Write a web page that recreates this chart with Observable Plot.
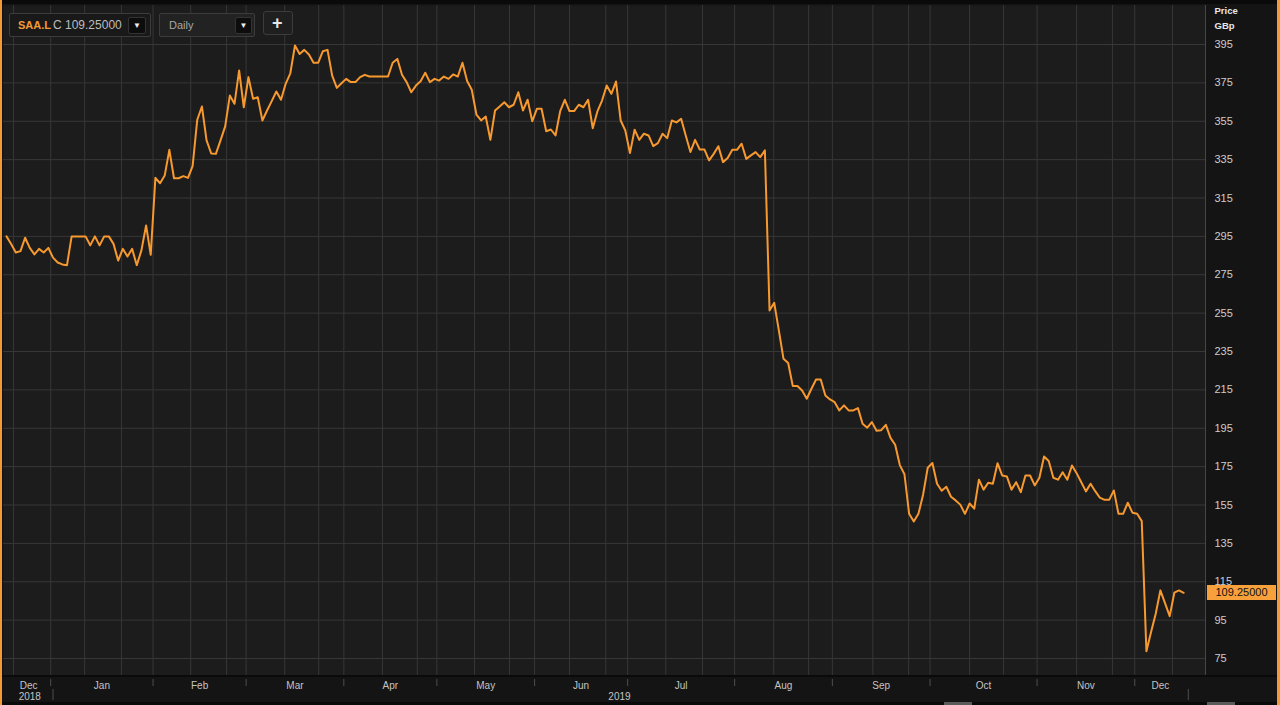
<!DOCTYPE html>
<html>
<head>
<meta charset="utf-8">
<script src="https://cdn.jsdelivr.net/npm/d3@7"></script>
<script src="https://cdn.jsdelivr.net/npm/@observablehq/plot@0.6"></script>
<style>
  html, body { margin: 0; padding: 0; background: #141414; }
  #wrap { position: relative; width: 1280px; height: 705px; overflow: hidden; background: #141414;
          font-family: "Liberation Sans", Arial, sans-serif; }
  #chart { position: absolute; left: 0; top: 0; }
  .abs { position: absolute; }
  .ctl { position: absolute; box-sizing: border-box; border: 1px solid #3c3c3c; border-radius: 2px; }
  .dd { position: absolute; box-sizing: border-box; background: #0d0d0d; border: 1px solid #333; border-radius: 2px;
        color: #eee; font-size: 8px; text-align: center; line-height: 15px; }
</style>
</head>
<body>
<div id="wrap">
  <div id="chart"></div>
  <!-- frame decorations -->
  <div class="abs" style="left:0;top:0;width:1280px;height:4px;background:#0a0a0a;"></div>
  <div class="abs" style="left:0;top:675px;width:1280px;height:2px;background:#0a0a0a;"></div>
  <div class="abs" style="left:0;top:702px;width:1280px;height:3px;background:#0a0a0a;"></div>
  <div class="abs" style="left:944px;top:702px;width:28px;height:3px;background:#5a5a5a;"></div>
  <div class="abs" style="left:1207px;top:702px;width:28px;height:3px;background:#5a5a5a;"></div>
  <div class="abs" style="left:0;top:0;width:2px;height:705px;background:#f39a34;"></div>
  <div class="abs" style="left:1277px;top:0;width:3px;height:705px;background:#f39a34;"></div>
  <!-- controls -->
  <div class="ctl" style="left:9px;top:13px;width:142px;height:24px;background:#191919;">
    <span class="abs" style="left:8px;top:5px;font-size:11px;font-weight:bold;color:#f39a34;">SAA.L</span>
    <span class="abs" style="left:43px;top:4px;font-size:12px;color:#bdbdbd;">C 109.25000</span>
    <div class="dd" style="left:118px;top:3px;width:18px;height:17px;">&#9660;</div>
  </div>
  <div class="ctl" style="left:159px;top:13px;width:96px;height:24px;background:#222;">
    <span class="abs" style="left:9px;top:5px;font-size:11px;color:#a8a8a8;">Daily</span>
    <div class="dd" style="left:75px;top:3px;width:17px;height:17px;">&#9660;</div>
  </div>
  <div class="ctl" style="left:263px;top:11px;width:30px;height:24px;background:#1f1f1f;border-radius:3px;">
    <span class="abs" style="left:8px;top:1px;font-size:18px;font-weight:bold;color:#e6e6e6;">+</span>
  </div>
  <div id="lastbox" class="abs" style="left:1207px;width:69px;height:15px;background:#f8a03c;color:#111;
       font-size:11px;line-height:15px;text-align:center;"></div>
</div>
<script>
// ---- data (daily closes, GBp, trading days 14 Dec 2018 .. 16 Dec 2019) ----
const prices = [
  295, 291, 286.6, 287.3, 294.3, 289, 285.6, 288.5, 286.6, 289,
  283.9, 281.4, 280.4, 280, 295, 295, 295, 295, 290.3, 295,
  290.3, 295, 295, 291.1, 282.4, 288.5, 284.5, 288.5, 280, 287.7,
  300.7, 285.4, 325.5, 322.7, 326.7, 340.1, 325.3, 325.3, 326.4, 325.5,
  331.6, 355.8, 362.7, 345, 338.2, 338, 345, 352.3, 368.4, 364.1,
  381.5, 362.3, 378, 366.7, 367.5, 355.4, 360.6, 365.5, 370.5, 366.2,
  374.5, 380, 394.5, 390.1, 392.2, 389.8, 385.5, 385.5, 391.5, 392.2,
  378.8, 372.4, 374.8, 377.1, 375.4, 375.4, 378, 379.2, 378.3, 378.3,
  378.3, 378.3, 378.3, 385.5, 387.5, 379.2, 375.4, 370.1, 373.6, 375.9,
  380.3, 375.4, 377.1, 376.2, 378.3, 377.1, 379.4, 378.3, 385.5, 376,
  371.4, 358.5, 355.4, 357.5, 345.3, 360.6, 362.7, 364.9, 362.3, 363.6,
  370.1, 360.6, 366.2, 355, 361.5, 361.5, 349.8, 350.7, 347.6, 360.3,
  366.2, 360.3, 360.3, 363.6, 362.3, 366.2, 351.4, 360.1, 365.8, 373.6,
  369.3, 375.7, 355.4, 350.2, 338.4, 350.6, 345.3, 348.5, 347.6, 342,
  343.6, 348.5, 346.2, 355.4, 354.4, 356.3, 347.5, 339, 345.3, 340.3,
  340.3, 334.6, 338, 342, 333.7, 335.8, 340.1, 340.1, 343.3, 335.4,
  337.2, 338.9, 336.3, 339.8, 256.4, 260.4, 246, 231.2, 229, 217,
  217, 214.7, 210.4, 215.6, 220.4, 220.4, 212.1, 210, 208.6, 204.3,
  206.9, 204.3, 204.3, 205.5, 197.3, 195.3, 198.2, 193.7, 194, 196.8,
  190, 186.4, 175.8, 171, 150.4, 146.4, 150.4, 160.4, 174.4, 176.9,
  166.1, 162.4, 164.5, 159.3, 157.4, 155.2, 150.4, 155.8, 153.1, 168.2,
  163, 166.6, 166.1, 176.8, 170.4, 169.9, 163, 166.9, 161.7, 170.4,
  170.4, 165.2, 169.2, 180.3, 177.9, 169.2, 168.2, 172.1, 168.2, 175.6,
  171.6, 166.9, 162.1, 166.1, 162.2, 158.8, 157.7, 157.7, 162.6, 150.4,
  150.4, 156.2, 151, 150.4, 146.6, 78.8, 88.8, 98.3, 110.5, 103.9,
  97.1, 109.3, 110.5, 109.25
];
const monthNames = ["Dec","Jan","Feb","Mar","Apr","May","Jun","Jul","Aug","Sep","Oct","Nov","Dec"];
const monthDays  = [10, 22, 20, 21, 20, 21, 20, 23, 21, 21, 23, 21, 11];   // trading days shown per month
const yearNames  = ["2018", "2019"];
const yearMonths = [1, 12];                                              // months of each year in view
const yTicks     = [75, 95, 115, 135, 155, 175, 195, 215, 235, 255, 275, 295, 315, 335, 355, 375, 395];
const gridDays   = [1.5, 9.5, 16.8, 24.7, 31.5, 39.6, 47.3, 51.5, 59.8, 67.1, 72.5, 80.8, 88.3, 92.5,
                    100.6, 108.1, 113.5, 121, 128.8, 133.5, 141.7, 149.6, 156.5, 164.9, 172.4, 177.5,
                    186.2, 193.9, 198.5, 207, 214.3, 221.5, 230, 237.7, 242.5, 250.6];
const lastLabel  = "109.25000";
const lastPrice  = prices[prices.length - 1];

// ---- derived tables ----
const n = prices.length;
const series = prices.map((v, i) => ({i, v}));
let acc = 0;
const months = monthNames.map((name, k) => {
  const start = acc - 0.5; acc += monthDays[k];
  const end = acc - 0.5;
  const a = Math.max(start, 0), b = Math.min(end, n);
  return {name, start, end, mid: (a + b) / 2};
});
const bounds = months.slice(1).map(m => m.start);
let mk = 0;
const years = yearNames.map((name, k) => {
  const first = months[mk], last = months[mk + yearMonths[k] - 1];
  mk += yearMonths[k];
  const a = Math.max(first.start, 0), b = Math.min(last.end + 0.5, n);
  return {name, a, b, mid: (a + b) / 2};
});
const yearSeps = years.map(y => y.b);

// ---- layout ----
const W = 1280, H = 705, mt = 5, mb = 30, ml = 3, mr = 75;
const yLo = 66.14, yHi = 415.33, xLo = -0.645, xHi = 257.7;
const yAt = p => yHi - (p - mt) * (yHi - yLo) / (H - mt - mb);   // pixel row -> y value (for axis tick rules)

const grid = "#373737";
const chart = Plot.plot({
  width: W, height: H,
  marginTop: mt, marginBottom: mb, marginLeft: ml, marginRight: mr,
  style: {background: "transparent", fontFamily: "'Liberation Sans', Arial, sans-serif", overflow: "visible"},
  x: {domain: [xLo, xHi], axis: null},
  y: {domain: [yLo, yHi], axis: null},
  marks: [
    Plot.frame({fill: "#1c1c1c", stroke: null}),
    Plot.ruleY(yTicks, {stroke: grid, strokeWidth: 1}),
    Plot.ruleX(gridDays, {stroke: grid, strokeWidth: 1}),
    Plot.line(series, {x: "i", y: "v", stroke: "#f7992f", strokeWidth: 2, strokeLinejoin: "round"}),
    // right price axis
    Plot.ruleX([xHi], {stroke: "#474747"}),
    Plot.text(yTicks, {x: xHi, y: d => d, text: d => String(d), dx: 9, textAnchor: "start",
                       fill: "#cdcdcd", fontSize: 11}),
    Plot.text(["Price"], {frameAnchor: "top-right", dx: 9, dy: 2, textAnchor: "start",
                          fill: "#e8e8e8", fontSize: 9.5, fontWeight: "bold"}),
    Plot.text(["GBp"], {frameAnchor: "top-right", dx: 9, dy: 17, textAnchor: "start",
                        fill: "#e8e8e8", fontSize: 9.5, fontWeight: "bold"}),
    // bottom time axis
    Plot.ruleX(bounds, {y1: yAt(679), y2: yAt(686), stroke: "#4e4e4e"}),
    Plot.ruleX(yearSeps, {y1: yAt(689), y2: yAt(700), stroke: "#4e4e4e"}),
    Plot.text(months, {x: "mid", text: "name", frameAnchor: "bottom", dy: 13,
                       fill: "#c4c4c4", fontSize: 10}),
    Plot.text(years, {x: "mid", text: "name", frameAnchor: "bottom", dy: 24,
                      fill: "#c4c4c4", fontSize: 10})
  ]
});
document.getElementById("chart").appendChild(chart);

// last-price tag positioned with the chart's own y scale
const ys = chart.scale("y");
const box = document.getElementById("lastbox");
box.textContent = lastLabel;
box.style.top = (ys.apply(lastPrice) - 7.5) + "px";
</script>
</body>
</html>
